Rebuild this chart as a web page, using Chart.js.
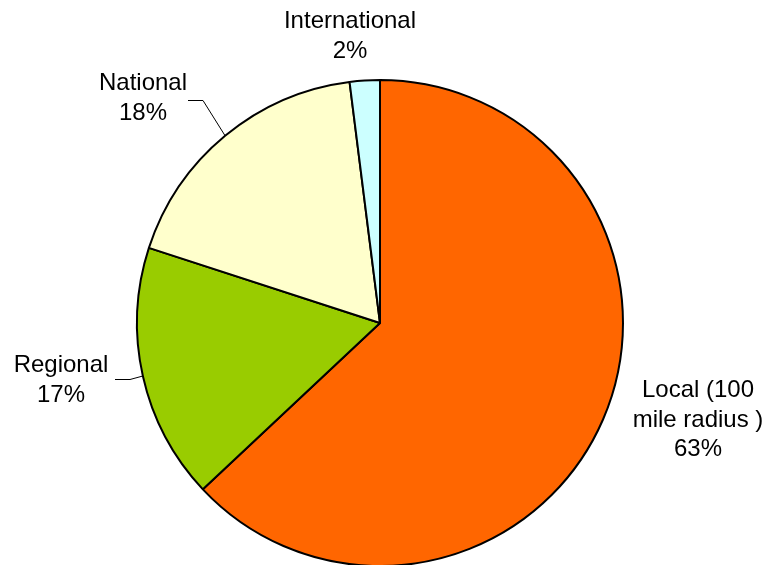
<!DOCTYPE html>
<html>
<head>
<meta charset="utf-8">
<script src="https://cdn.jsdelivr.net/npm/chart.js@4/dist/chart.umd.min.js"></script>
<style>
  html, body { margin: 0; padding: 0; background: #ffffff; }
  #wrap { width: 770px; height: 565px; position: relative; }
</style>
</head>
<body>
<div id="wrap"><canvas id="c" width="770" height="565"></canvas></div>
<script>
// ---- data ----
const categories = ["Local (100 mile radius )", "Regional", "National", "International"];
const labelLines = [["Local (100", "mile radius )"], ["Regional"], ["National"], ["International"]];
const values = [63, 17, 18, 2];
const colors = ["#FF6600", "#99CC00", "#FFFFCC", "#CCFFFF"];

// label placement (text centre x, first baseline y, optional leader elbow)
const labelPlacement = [
  { x: 698, y: 397, leader: null },
  { x: 61,  y: 372, leader: { x1: 115, x2: 130, y: 379 } },
  { x: 143, y: 90,  leader: { x1: 188, x2: 203, y: 100 } },
  { x: 350, y: 28,  leader: null }
];

const total = values.reduce((a, b) => a + b, 0);

const labelPlugin = {
  id: 'excelLabels',
  afterDatasetsDraw(chart) {
    const ctx = chart.ctx;
    const meta = chart.getDatasetMeta(0);
    ctx.save();
    ctx.font = '24px "Liberation Sans", Arial, sans-serif';
    ctx.fillStyle = '#000';
    ctx.textAlign = 'center';
    ctx.textBaseline = 'alphabetic';
    const lh = 29.5;
    meta.data.forEach((arc, i) => {
      const p = labelPlacement[i];
      const lines = labelLines[i].concat([Math.round(values[i] / total * 100) + '%']);
      lines.forEach((t, k) => ctx.fillText(t, p.x, p.y + k * lh));
      if (p.leader) {
        const { x, y, startAngle, endAngle, outerRadius } = arc.getProps(['x', 'y', 'startAngle', 'endAngle', 'outerRadius'], true);
        const mid = (startAngle + endAngle) / 2;
        const ax = x + Math.cos(mid) * outerRadius;
        const ay = y + Math.sin(mid) * outerRadius;
        ctx.beginPath();
        ctx.strokeStyle = '#000';
        ctx.lineWidth = 1;
        ctx.moveTo(p.leader.x1, p.leader.y + 0.5);
        ctx.lineTo(p.leader.x2, p.leader.y + 0.5);
        ctx.lineTo(ax, ay);
        ctx.stroke();
      }
    });
    ctx.restore();
  }
};

new Chart(document.getElementById('c'), {
  type: 'pie',
  data: {
    labels: categories,
    datasets: [{
      data: values,
      backgroundColor: colors,
      borderColor: '#000000',
      borderWidth: 2,
      radius: 243
    }]
  },
  options: {
    responsive: false,
    animation: false,
    layout: { padding: { left: 0, right: 10, top: 81, bottom: 0 } },
    plugins: {
      legend: { display: false },
      tooltip: { enabled: false }
    }
  },
  plugins: [labelPlugin]
});
</script>
</body>
</html>
